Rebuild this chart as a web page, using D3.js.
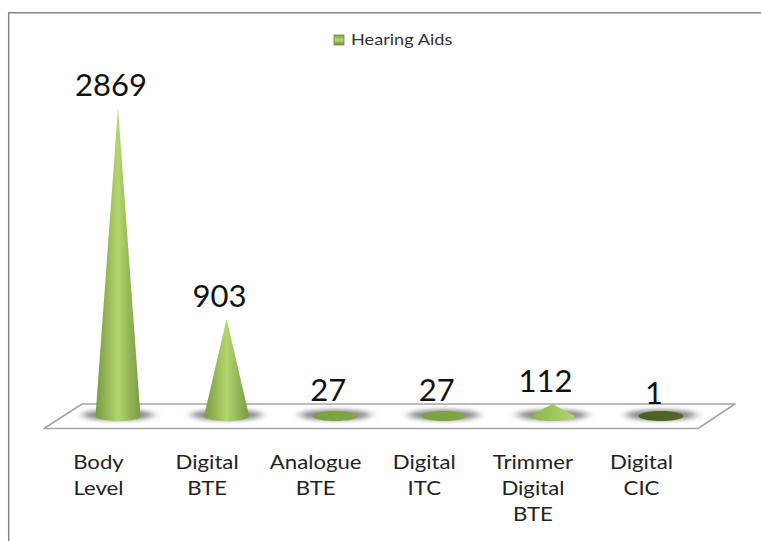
<!DOCTYPE html>
<html>
<head>
<meta charset="utf-8">
<script src="https://d3js.org/d3.v7.min.js"></script>
<style>
html, body { margin: 0; padding: 0; background: #fff; }
svg { display: block; }
text { font-family: Lato, "Noto Sans", sans-serif; fill: #111; }
</style>
</head>
<body>
<div id="chart"></div>
<script>
var seriesName = 'Hearing Aids';
var categories = ['Body Level', 'Digital BTE', 'Analogue BTE', 'Digital ITC', 'Trimmer Digital BTE', 'Digital CIC'];
var values = [2869, 903, 27, 27, 112, 1];

var width = 761, height = 541;
var floorY = 416, rx = 22.5, ry = 5;

var svg = d3.select('#chart').append('svg').attr('width', width).attr('height', height);
var defs = svg.append('defs');

// cone shading, left to right
function addGradient(id, stops) {
	var g = defs.append('linearGradient').attr('id', id);
	stops.forEach(function (s) {
		g.append('stop').attr('offset', s[0]).attr('stop-color', s[1]);
	});
}
addGradient('coneTall', [[0, '#7b9a43'], [0.25, '#95b656'], [0.5, '#b4d66f'], [0.75, '#95b656'], [1, '#7b9a43']]);
addGradient('coneFlat', [[0, '#8bb04e'], [0.5, '#a0c55c'], [1, '#b2d56f']]);
addGradient('discMid', [[0, '#7d9e42'], [1, '#83a546']]);
addGradient('discDark', [[0, '#4b5f25'], [1, '#52682a']]);
var legendGrad = defs.append('linearGradient').attr('id', 'legendFill').attr('x2', 0).attr('y2', 1);
legendGrad.append('stop').attr('offset', 0).attr('stop-color', '#7f9f45');
legendGrad.append('stop').attr('offset', 0.5).attr('stop-color', '#b7d96f');
legendGrad.append('stop').attr('offset', 1).attr('stop-color', '#6f8d3a');
defs.append('filter').attr('id', 'soft').attr('x', '-30%').attr('y', '-80%').attr('width', '160%').attr('height', '260%')
	.append('feGaussianBlur').attr('stdDeviation', '5 2.2');

function coneFill(v) {
	if (v >= 500) return 'url(#coneTall)';
	if (v >= 100) return 'url(#coneFlat)';
	if (v >= 10) return 'url(#discMid)';
	return 'url(#discDark)';
}

// scales
var x = d3.scalePoint().domain(categories).range([118, 661]);
var y = d3.scaleLinear().domain([0, 2869]).range([floorY, 108]);

// outer frame, only top and left are in the picture
svg.append('path')
	.attr('d', 'M8.7,' + height + 'V12.7H' + width)
	.attr('fill', 'none').attr('stroke', '#868686').attr('stroke-width', 1.5);

// legend
svg.append('rect').attr('x', 334).attr('y', 35).attr('width', 10).attr('height', 10)
	.attr('fill', 'url(#legendFill)').attr('stroke', '#6f8d3a').attr('stroke-width', 0.8);
svg.append('text').attr('transform', 'translate(351,45) scale(1.17,1)')
	.attr('font-size', 15.5).style('fill', '#333').text(seriesName);

// floor
svg.append('path')
	.attr('d', 'M44,428.5L82,404H735L698,428.5Z')
	.attr('fill', '#fff').attr('stroke', '#a6a6a6').attr('stroke-width', 1.6).attr('stroke-linejoin', 'round');

// shadows
svg.append('g').selectAll('ellipse').data(categories).join('ellipse')
	.attr('cx', function (d) { return x(d); })
	.attr('cy', floorY - 1)
	.attr('rx', rx + 13)
	.attr('ry', 5.5)
	.attr('fill', '#8c8c8c')
	.attr('filter', 'url(#soft)');

// cones
var k = 0.5523;
function halfBase(p, cx, dir) {
	// half of the base ellipse, dir 1 = front going left, -1 = back going right
	p.bezierCurveTo(cx + dir * rx, floorY + dir * k * ry, cx + dir * k * rx, floorY + dir * ry, cx, floorY + dir * ry);
	p.bezierCurveTo(cx - dir * k * rx, floorY + dir * ry, cx - dir * rx, floorY + dir * k * ry, cx - dir * rx, floorY);
}
function conePath(cat, v) {
	var cx = x(cat), top = y(v), p = d3.path();
	p.moveTo(cx + rx, floorY);
	halfBase(p, cx, 1);
	// flat discs show their whole base, taller cones come to a point
	if (v < 100) halfBase(p, cx, -1);
	else p.lineTo(cx, top);
	p.closePath();
	return p.toString();
}
svg.append('g').selectAll('path').data(categories).join('path')
	.attr('d', function (d, i) { return conePath(d, values[i]); })
	.attr('fill', function (d, i) { return coneFill(values[i]); });

// data labels
svg.append('g').selectAll('text').data(categories).join('text')
	.attr('x', function (d) { return x(d) - 7; })
	.attr('y', function (d, i) { return y(values[i]) - 12; })
	.attr('text-anchor', 'middle')
	.attr('font-size', 31)
	.text(function (d, i) { return values[i]; });

// category axis
var axis = svg.append('g').attr('transform', 'translate(-20,' + 451 + ')')
	.call(d3.axisBottom(x).tickSize(0));
axis.select('.domain').remove();
axis.selectAll('.tick text').each(function (d) {
	var t = d3.select(this).text(null).attr('y', 0).attr('dy', null)
		.attr('font-size', 18.5).attr('font-family', null).attr('transform', 'scale(1.2,1)').style('fill', '#222');
	// every word on its own line
	d.split(' ').forEach(function (w, i) {
		t.append('tspan').attr('x', 0).attr('y', 18 + i * 26).text(w);
	});
});
</script>
</body>
</html>
